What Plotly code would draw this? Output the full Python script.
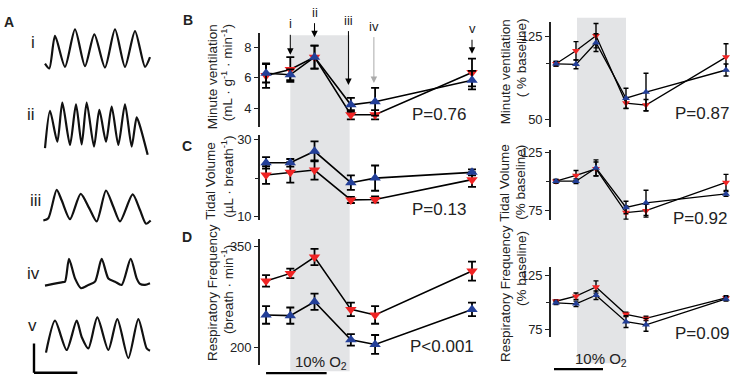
import plotly.graph_objects as go

W, H = 732, 382
FONT = "Liberation Sans, Arial, sans-serif"

def px(x):
    return x / W

def py(y):
    return 1 - y / H

# ---------------- data ----------------
time_pts = [0, 1, 2, 3.5, 4.5, 8.5]

# B: minute ventilation (absolute)
mv_red = [6.15, 6.55, 7.35, 3.6, 3.6, 6.35]
mv_red_err = [0.8, 0.8, 0.75, 0.3, 0.3, 0.9]
mv_blue = [6.3, 6.2, 7.35, 4.25, 4.45, 5.85]
mv_blue_err = [0.6, 0.35, 0.75, 0.45, 0.9, 0.6]

# C: tidal volume (absolute)
vt_red = [20.8, 21.5, 22.1, 14.3, 14.4, 19.6]
vt_red_err = [2.3, 2.7, 2.5, 0.8, 0.8, 1.9]
vt_blue = [24.0, 24.0, 27.0, 18.8, 20.0, 21.5]
vt_blue_err = [1.5, 1.0, 2.6, 1.9, 3.3, 0.8]

# D: respiratory frequency (absolute)
rf_red = [298.7, 309.8, 334.0, 256.6, 248.4, 313.2]
rf_red_err = [8.5, 7, 12, 10, 13, 14]
rf_blue = [248.4, 247.4, 267.8, 211.6, 204.8, 256.6]
rf_blue_err = [13, 12, 12, 8.5, 14, 10]

# % baseline
mvp_red = [100, 111.7, 125.3, 64.6, 62.8, 106]
mvp_red_err = [2, 8.3, 11, 5, 5, 12]
mvp_blue = [100, 99.5, 119, 69, 74.5, 94.4]
mvp_blue_err = [2, 4, 8, 9, 17, 5.4]

vtp_red = [100, 105, 110.7, 72.8, 74.4, 98.9]
vtp_red_err = [1.5, 4.3, 6, 5.8, 5.6, 7]
vtp_blue = [100, 100, 111.5, 77.2, 81.2, 89]
vtp_blue_err = [1.5, 2, 7, 5.4, 11, 2]

rfp_red = [101, 105.7, 114.3, 88.8, 85, 104.1]
rfp_red_err = [1.5, 3, 5.7, 2, 2, 2]
rfp_blue = [99.5, 98.6, 106.6, 82, 79, 103.2]
rfp_blue_err = [1.5, 2.5, 4, 5.5, 6, 2]

p_values = ["P=0.76", "P=0.13", "P<0.001", "P=0.87", "P=0.92", "P=0.09"]

hypoxia_start, hypoxia_end = 1, 3.45
bar_start, bar_end = 0, 2.5

# arrows above panel B (labels, x, tip value)
arrow_labels = ["i", "ii", "iii", "iv", "v"]
arrow_x = [1, 2, 3.4, 4.45, 8.5]
arrow_tip = [7.50, 8.65, 5.53, 5.66, 7.57]
arrow_len = [31, 25, 65, 57, 25]
arrow_col = ["black", "black", "black", "#aaaaaa", "black"]

# panel A traces: time (a.u.) and amplitude (a.u.)
wave_i_t = [135, 148, 165, 195, 225, 255, 283, 315, 345, 375, 405, 435, 450]
wave_i_a = [15, 0, 100, 5, 120, 7, 105, 3, 120, 5, 115, 5, 35]
wave_ii_t = [135, 150, 172, 187, 210, 228, 245, 260, 282, 298, 318, 335, 355, 375, 395, 410, 420, 443]
wave_ii_a = [0, 115, 20, 140, 10, 135, 12, 140, 5, 118, 20, 128, 10, 135, 5, 95, 68, -20]
wave_iii_t = [130, 145, 170, 185, 210, 242, 268, 290, 318, 340, 360, 398, 420, 438, 452]
wave_iii_a = [3, 10, 97, 65, 7, 85, 40, 0, 95, 45, 0, 83, 35, -7, 3]
wave_iv_t = [135, 160, 185, 195, 207, 225, 243, 265, 285, 305, 325, 345, 365, 392, 410, 420, 435, 450]
wave_iv_a = [8, 13, 18, 20, 90, 30, 0, 10, 20, 90, 30, 20, 10, 90, 30, 13, 10, 15]
wave_v_t = [138, 165, 200, 230, 245, 265, 292, 325, 352, 385, 415, 440, 450]
wave_v_a = [17, 115, 25, 115, 65, 30, 125, 25, 120, 0, 120, 30, 23]
wave_labels = ["i", "ii", "iii", "iv", "v"]

RED = "#f02424"
BLUE = "#233f98"

fig = go.Figure()

# ---------------- panels B-D ----------------
panels = [
    # axis id, red, red_err, blue, blue_err, xdom px, ydom px (top,bottom), yrange, labelled ticks, minor ticks, left column?
    ("", mv_red, mv_red_err, mv_blue, mv_blue_err, (260, 480), (29, 125), [2.8, 8.9], [4, 6, 8], [], True),
    ("2", vt_red, vt_red_err, vt_blue, vt_blue_err, (260, 480), (133, 220), [9.1, 31.3], [10, 30], [20], True),
    ("3", rf_red, rf_red_err, rf_blue, rf_blue_err, (260, 480), (240, 369), [174, 360.1], [200, 350], [], True),
    ("4", mvp_red, mvp_red_err, mvp_blue, mvp_blue_err, (551, 732), (17, 125), [43, 138], [50, 125], [100], False),
    ("5", vtp_red, vtp_red_err, vtp_blue, vtp_blue_err, (551, 732), (148, 220), [66.5, 127.5], [75, 125], [100], False),
    ("6", rfp_red, rfp_red_err, rfp_blue, rfp_blue_err, (551, 732), (268, 340), [67.7, 133.2], [75, 125], [100], False),
]

layout_axes = {}
for aid, r, re, b, be, xd, yd, yr, tv, mtv, left in panels:
    msize = 10 if left else 7
    ew = 4 if left else 2.5
    eth = 1.8 if left else 1.4
    lw = 1.6 if left else 1.3
    for vals, errs, col, sym in ((r, re, RED, "triangle-down"), (b, be, BLUE, "triangle-up")):
        fig.add_trace(go.Scatter(
            x=time_pts, y=vals, mode="lines+markers",
            xaxis="x" + aid, yaxis="y" + aid,
            line=dict(color="black", width=lw),
            marker=dict(color=col, symbol=sym, size=msize, line=dict(width=0)),
            error_y=dict(type="data", array=errs, color="black", thickness=eth, width=ew),
            showlegend=False, hoverinfo="skip", cliponaxis=False,
        ))
    xrange = [-0.25, 8.83] if left else [-0.25, 8.8]
    ydict = dict(domain=[py(yd[1]), py(yd[0])], range=yr,
                 anchor="x" + aid, showgrid=False, zeroline=False,
                 showline=True, linecolor="#222222", linewidth=1.6,
                 ticks="outside", ticklen=4, tickwidth=1.4, tickcolor="#222222",
                 tickmode="array", tickvals=tv,
                 tickfont=dict(family=FONT, size=13, color="#222222"))
    if mtv:
        ydict["minor"] = dict(tickmode="array", tickvals=mtv, ticks="outside", ticklen=3,
                              tickwidth=1.4, tickcolor="#222222", showgrid=False)
    layout_axes["xaxis" + aid] = dict(domain=[px(xd[0]), px(xd[1])], range=xrange,
                                      visible=False, anchor="y" + aid)
    layout_axes["yaxis" + aid] = ydict

# ---------------- panel A ----------------
waves = [(wave_i_t, wave_i_a), (wave_ii_t, wave_ii_a), (wave_iii_t, wave_iii_a),
         (wave_iv_t, wave_iv_a), (wave_v_t, wave_v_a)]
wave_base = [195, 440, 665, 870, 1085]
for (t, a), base in zip(waves, wave_base):
    fig.add_trace(go.Scatter(
        x=t, y=[base - v for v in a], mode="lines", xaxis="x7", yaxis="y7",
        line=dict(color="#111111", width=2.2, shape="spline", smoothing=0.7),
        showlegend=False, hoverinfo="skip",
    ))
layout_axes["xaxis7"] = dict(domain=[0, px(180)], range=[0, 540], visible=False, anchor="y7")
layout_axes["yaxis7"] = dict(domain=[0, 1], range=[1146, 0], visible=False, anchor="x7")

shapes = []
# hypoxia shading
shapes.append(dict(type="rect", xref="x", yref="paper", x0=hypoxia_start, x1=hypoxia_end,
                   y0=py(375), y1=py(31), fillcolor="#e3e4e6", line=dict(width=0), layer="below"))
shapes.append(dict(type="rect", xref="x4", yref="paper", x0=hypoxia_start + 0.05, x1=3.5,
                   y0=py(367), y1=py(13), fillcolor="#e3e4e6", line=dict(width=0), layer="below"))
# time bars
shapes.append(dict(type="line", xref="x3", yref="paper", x0=bar_start, x1=bar_end,
                   y0=py(377), y1=py(377), line=dict(color="black", width=2.2)))
shapes.append(dict(type="line", xref="x6", yref="paper", x0=bar_start - 0.1, x1=bar_end - 0.15,
                   y0=py(373), y1=py(373), line=dict(color="black", width=2.2)))
# scale bar panel A
shapes.append(dict(type="line", xref="x7", yref="y7", x0=102, x1=102, y0=1040, y1=1130,
                   line=dict(color="black", width=2.4)))
shapes.append(dict(type="line", xref="x7", yref="y7", x0=102, x1=232, y0=1130, y1=1130,
                   line=dict(color="black", width=2.4)))

ann = []

def text(x, y, s, size=13, bold=False, angle=0, xanchor="center", yanchor="middle", color="#222222"):
    ann.append(dict(x=px(x), y=py(y), xref="paper", yref="paper", text=("<b>%s</b>" % s) if bold else s,
                    showarrow=False, textangle=angle, xanchor=xanchor, yanchor=yanchor,
                    font=dict(family=FONT, size=size, color=color)))

# panel letters
text(9, 17, "A", 14, True)
text(188, 15, "B", 14, True)
text(187, 144, "C", 14, True)
text(187, 238, "D", 14, True)

# roman numerals panel A
for lab, (xx, yy) in zip(wave_labels, [(33, 38), (31, 112), (35, 200), (33, 275), (32, 328)]):
    text(xx, yy, lab, 17)

# axis titles
TS = 13.5
text(212, 74, "Minute ventilation", TS, angle=-90)
text(227, 70, "(mL · g<sup>-1</sup> · min<sup>-1</sup>)", TS, angle=-90)
text(211, 180, "Tidal Volume", TS, angle=-90)
text(227, 176, "(µL · breath<sup>-1</sup>)", TS, angle=-90)
text(212, 295, "Respiratory Frequency", TS, angle=-90)
text(227, 292, "(breath · min<sup>-1</sup>)", TS, angle=-90)
text(505, 69, "Minute ventilation", TS, angle=-90)
text(521, 12, "( % baseline)", TS, angle=-90, yanchor="top")
text(505, 182, "Tidal Volume", TS, angle=-90)
text(521, 182, "(% baseline)", TS, angle=-90)
text(505, 296, "Respiratory Frequency", TS, angle=-90)
text(521, 230, "(% baseline)", TS, angle=-90, yanchor="top")

# P values
for s, (xx, yy) in zip(p_values, [(439, 112), (439, 209), (442, 350), (702, 111), (700, 219), (702, 336)]):
    text(xx, yy, s, 17)

# 10% O2
text(321, 366, "10% O<sub>2</sub>", 15)
text(601, 363, "10% O<sub>2</sub>", 15)

# arrows
for lab, ax_, tip, ln, col in zip(arrow_labels, arrow_x, arrow_tip, arrow_len, arrow_col):
    ann.append(dict(x=ax_, y=tip, xref="x", yref="y", text=lab, showarrow=True,
                    ax=0, ay=-ln, arrowhead=2, arrowsize=1.3, arrowwidth=1, arrowcolor=col,
                    standoff=0, startstandoff=2,
                    font=dict(family=FONT, size=13, color="#222222")))

fig.update_layout(
    width=W, height=H, margin=dict(l=0, r=0, t=0, b=0),
    paper_bgcolor="white", plot_bgcolor="white",
    shapes=shapes, annotations=ann, showlegend=False,
    **layout_axes,
)

fig.write_html("out.html", config={"displayModeBar": False},
               post_script="document.body.style.margin='0px';document.body.style.overflow='hidden';")
